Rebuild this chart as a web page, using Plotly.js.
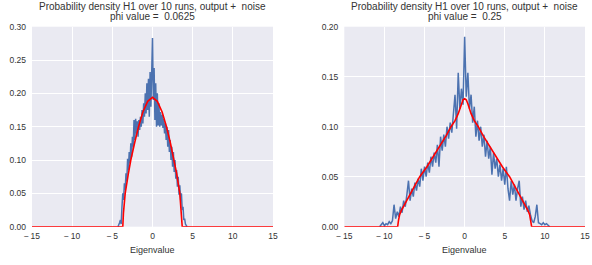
<!DOCTYPE html>
<html>
<head>
<meta charset="utf-8">
<script src="https://cdn.plot.ly/plotly-3.0.1.min.js"></script>
<style>html,body{margin:0;padding:0;background:#fff;}#chart{width:592px;height:265px;}</style>
</head>
<body>
<div id="chart"></div>
<script>
// ---- Left panel (phi = 0.0625) ----
const leftBlueX = [-4.3,-4.2,-4.1,-4.0,-3.9,-3.8,-3.7,-3.6,-3.5,-3.4,-3.3,-3.2,-3.1,-3.0,-2.9,-2.8,-2.7,-2.6,-2.5,-2.4,-2.3,-2.2,-2.1,-2.0,-1.9,-1.8,-1.7,-1.6,-1.5,-1.4,-1.3,-1.2,-1.1,-1.0,-0.9,-0.8,-0.7,-0.6,-0.5,-0.4,-0.3,-0.2,-0.1,0.0,0.1,0.2,0.3,0.4,0.5,0.6,0.7,0.8,0.9,1.0,1.1,1.2,1.3,1.4,1.5,1.6,1.7,1.8,1.9,2.0,2.1,2.2,2.3,2.4,2.5,2.6,2.7,2.8,2.9,3.0,3.1,3.2,3.3,3.4,3.5,3.6,3.7,3.8,3.9,4.0,4.1,4.2,4.3];
const leftBlueY = [0,0.002,0.006,0.010,0.004,0.030,0.050,0.040,0.065,0.055,0.080,0.068,0.102,0.085,0.112,0.095,0.125,0.105,0.135,0.120,0.160,0.130,0.162,0.140,0.158,0.135,0.160,0.145,0.165,0.150,0.175,0.155,0.185,0.165,0.200,0.170,0.215,0.175,0.222,0.165,0.232,0.180,0.245,0.283,0.190,0.238,0.160,0.215,0.150,0.200,0.152,0.185,0.150,0.172,0.152,0.168,0.148,0.162,0.140,0.155,0.130,0.150,0.120,0.145,0.112,0.130,0.100,0.120,0.090,0.112,0.082,0.100,0.072,0.085,0.060,0.075,0.048,0.062,0.040,0.050,0.025,0.030,0.010,0.012,0.004,0.002,0];
const leftRedX = [-15,-3.70,-3.62,-3.4,-3.0,-2.7,-2.2,-1.74,-1.2,-0.6,0,0.6,1.2,1.74,2.2,2.7,3.0,3.4,3.62,3.70,15];
const leftRedY = [0,0,0.020,0.050,0.080,0.100,0.127,0.150,0.172,0.188,0.194,0.188,0.172,0.150,0.127,0.100,0.080,0.050,0.020,0,0];

// ---- Right panel (phi = 0.25) ----
const rightBlueX = [-10.6,-10.4,-10.2,-10.0,-9.8,-9.6,-9.4,-9.2,-9.0,-8.8,-8.6,-8.4,-8.2,-8.0,-7.8,-7.6,-7.4,-7.2,-7.0,-6.8,-6.6,-6.4,-6.2,-6.0,-5.8,-5.6,-5.4,-5.2,-5.0,-4.8,-4.6,-4.4,-4.2,-4.0,-3.8,-3.6,-3.4,-3.2,-3.0,-2.8,-2.6,-2.4,-2.2,-2.0,-1.8,-1.6,-1.4,-1.2,-1.0,-0.8,-0.6,-0.4,-0.2,0.0,0.2,0.4,0.6,0.8,1.0,1.2,1.4,1.6,1.8,2.0,2.2,2.4,2.6,2.8,3.0,3.2,3.4,3.6,3.8,4.0,4.2,4.4,4.6,4.8,5.0,5.2,5.4,5.6,5.8,6.0,6.2,6.4,6.6,6.8,7.0,7.2,7.4,7.6,7.8,8.0,8.2,8.4,8.6,8.8,9.0,9.2,9.4,9.6,9.8,10.0,10.2,10.4,10.6];
const rightBlueY = [0,0.002,0.004,0.001,0.003,0.002,0.005,0.003,0.006,0.022,0.008,0.015,0.010,0.020,0.014,0.026,0.020,0.032,0.046,0.026,0.038,0.030,0.044,0.036,0.048,0.040,0.058,0.046,0.060,0.050,0.064,0.054,0.070,0.060,0.074,0.064,0.082,0.060,0.090,0.076,0.092,0.080,0.100,0.088,0.104,0.094,0.112,0.132,0.098,0.154,0.118,0.138,0.122,0.190,0.130,0.154,0.118,0.132,0.104,0.120,0.090,0.106,0.086,0.100,0.080,0.092,0.070,0.086,0.068,0.080,0.052,0.074,0.058,0.068,0.050,0.062,0.046,0.058,0.042,0.060,0.038,0.026,0.046,0.032,0.042,0.026,0.038,0.046,0.020,0.030,0.017,0.026,0.015,0.021,0.012,0.006,0.004,0.010,0.022,0.004,0.003,0.002,0.004,0.002,0.003,0.001,0];
const rightRedX = [-15,-8.35,-8.25,-8.1,-7.9,-7.5,-6.9,-6.3,-5.6,-4.7,-3.9,-2.9,-2.3,-1.7,-1.2,-0.8,-0.4,-0.2,0,0.2,0.4,0.8,1.2,1.7,2.3,2.9,3.9,4.7,5.6,6.3,6.9,7.5,7.9,8.1,8.25,8.35,15];
const rightRedY = [0,0,0.006,0.012,0.016,0.022,0.030,0.040,0.050,0.060,0.070,0.083,0.091,0.100,0.106,0.113,0.123,0.127,0.128,0.127,0.123,0.113,0.106,0.100,0.091,0.083,0.070,0.060,0.050,0.040,0.030,0.022,0.016,0.012,0.006,0,0];

const xTicks = [-15,-10,-5,0,5,10,15];
const leftYTicks = [0,0.05,0.10,0.15,0.20,0.25,0.30];
const rightYTicks = [0,0.05,0.10,0.15,0.20];
const titleLine1 = 'Probability density H1 over 10 runs, output +  noise';
const leftTitle2 = 'phi value =  0.0625';
const rightTitle2 = 'phi value =  0.25';
const xLabel = 'Eigenvalue';

const BLUE = '#4C72B0', RED = '#FF0000', BG = '#EAEAF2', TXT = '#333333';
const FONT = 'Liberation Sans, Arial, sans-serif';

const traces = [
  {x: leftBlueX, y: leftBlueY, xaxis: 'x', yaxis: 'y', mode: 'lines', line: {color: BLUE, width: 1.5}, hoverinfo: 'skip'},
  {x: leftRedX, y: leftRedY, xaxis: 'x', yaxis: 'y', mode: 'lines', line: {color: RED, width: 1.6}, hoverinfo: 'skip'},
  {x: rightBlueX, y: rightBlueY, xaxis: 'x2', yaxis: 'y2', mode: 'lines', line: {color: BLUE, width: 1.5}, hoverinfo: 'skip'},
  {x: rightRedX, y: rightRedY, xaxis: 'x2', yaxis: 'y2', mode: 'lines', line: {color: RED, width: 1.6}, hoverinfo: 'skip'}
];

const yDom = [(265 - 226.7) / 265, (265 - 26.7) / 265];
const xDomL = [32 / 592, 273 / 592];
const xDomR = [344.3 / 592, 585 / 592];

function xAxis(dom, anchor) {
  return {domain: dom, anchor: anchor, range: [-15, 15], tickvals: xTicks, ticktext: xTicks.map(v => v < 0 ? '\u2212\u2009' + Math.abs(v) : String(v)),
    showgrid: true, gridcolor: '#FFFFFF', gridwidth: 1, zeroline: false, showline: false, ticks: '', ticklabelstandoff: 3,
    tickfont: {family: FONT, size: 8.5, color: TXT}, fixedrange: true};
}
function yAxis(dom, anchor, rng, ticks) {
  return {domain: dom, anchor: anchor, range: rng, tickvals: ticks, tickformat: '.2f',
    showgrid: true, gridcolor: '#FFFFFF', gridwidth: 1, zeroline: false, showline: false, ticks: '', ticklabelstandoff: 5,
    tickfont: {family: FONT, size: 8.5, color: TXT}, fixedrange: true};
}

const cL = (xDomL[0] + xDomL[1]) / 2, cR = (xDomR[0] + xDomR[1]) / 2;
function ann(x, yPx, text, size) {
  return {xref: 'paper', yref: 'paper', x: x, y: (265 - yPx) / 265, xanchor: 'center', yanchor: 'middle', text: text, showarrow: false,
    font: {family: FONT, size: size, color: TXT}};
}

const layout = {
  width: 592, height: 265, margin: {l: 0, r: 0, t: 0, b: 0},
  paper_bgcolor: '#FFFFFF', plot_bgcolor: BG, showlegend: false,
  xaxis: xAxis(xDomL, 'y'), yaxis: yAxis(yDom, 'x', [0, 0.30], leftYTicks),
  xaxis2: xAxis(xDomR, 'y2'), yaxis2: yAxis(yDom, 'x2', [0, 0.20], rightYTicks),
  annotations: [
    ann(cL, 6.5, titleLine1, 10), ann(cL, 17, leftTitle2, 10),
    ann(cR, 6.5, titleLine1, 10), ann(cR, 17, rightTitle2, 10),
    ann(cL, 250, xLabel, 9), ann(cR, 250, xLabel, 9)
  ]
};

Plotly.newPlot('chart', traces, layout, {displayModeBar: false, staticPlot: true});
</script>
</body>
</html>
